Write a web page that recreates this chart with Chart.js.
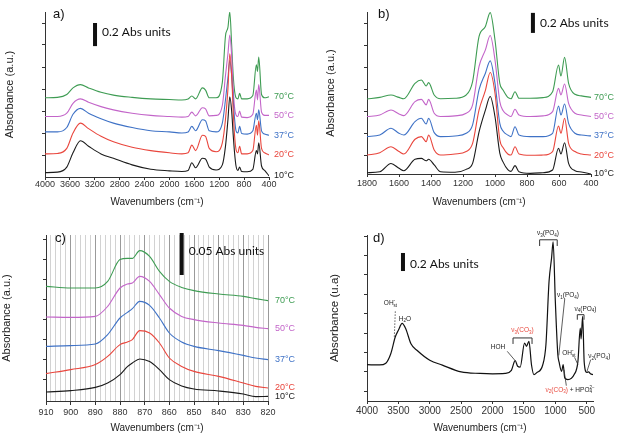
<!DOCTYPE html>
<html>
<head>
<meta charset="utf-8">
<script src="https://cdn.jsdelivr.net/npm/chart.js@4.4.1/dist/chart.umd.min.js"></script>
<style>
  html, body { margin: 0; padding: 0; background: #fff; width: 618px; height: 433px; overflow: hidden; }
  canvas { position: absolute; }
</style>
</head>
<body>
<canvas id="ca" style="left:0;top:0" width="309" height="216"></canvas>
<canvas id="cb" style="left:309px;top:0" width="309" height="216"></canvas>
<canvas id="cc" style="left:0;top:216px" width="309" height="217"></canvas>
<canvas id="cd" style="left:309px;top:216px" width="309" height="217"></canvas>
<script>
const temps = ['10°C', '20°C', '37°C', '50°C', '70°C'];
const tempColors = ['#1b1b1b', '#e9463d', '#3f72c6', '#c365c9', '#3e9c53'];
const red = '#e8473c';

// a) full range, 4000-400 cm-1
const wnA = [4000, 3800, 3650, 3550, 3430, 3300, 3100, 2900, 2600, 2300, 2000, 1800, 1700, 1640, 1580, 1470, 1420, 1360, 1250, 1150,
             1100, 1060, 1030, 1000, 975, 955, 930, 900, 872, 840, 750, 660, 603, 585, 565, 520, 470, 400];
const a10 = [0.2, 0.22, 0.45, 1.1, 1.65, 1.4, 1.05, 0.85, 0.55, 0.35, 0.28, 0.25, 0.3, 0.65, 0.42, 0.85, 0.82, 0.45, 0.32, 0.55,
             1.38, 2.6, 3.65, 3.0, 1.9, 1.15, 0.5, 0.3, 0.45, 0.25, 0.24, 0.35, 1.2, 1.05, 1.55, 0.5, 0.3, 0.05];
const a20 = [1.05, 1.07, 1.3, 2.0, 2.45, 2.2, 1.85, 1.6, 1.35, 1.2, 1.1, 1.05, 1.1, 1.45, 1.2, 1.9, 1.85, 1.3, 1.15, 1.55,
             2.6, 4.0, 5.6, 4.6, 3.0, 1.95, 1.25, 1.1, 1.4, 1.05, 1.05, 1.2, 2.35, 1.9, 2.55, 1.3, 1.1, 1.0];
const a37 = [2.05, 2.05, 2.25, 2.85, 3.12, 2.9, 2.65, 2.45, 2.25, 2.1, 2.05, 2.0, 2.05, 2.3, 2.1, 2.6, 2.55, 2.1, 2.05, 2.45,
             3.5, 4.5, 5.3, 4.6, 3.5, 2.7, 2.1, 2.0, 2.3, 1.98, 1.95, 2.1, 2.9, 2.6, 3.05, 2.1, 1.95, 1.9];
const a50 = [2.75, 2.75, 2.9, 3.35, 3.55, 3.4, 3.2, 3.05, 2.9, 2.8, 2.75, 2.72, 2.75, 2.95, 2.78, 3.15, 3.1, 2.78, 2.8, 3.25,
             4.6, 5.6, 6.45, 5.5, 4.0, 3.2, 2.82, 2.75, 3.0, 2.72, 2.7, 2.85, 3.95, 3.5, 4.2, 2.95, 2.8, 2.8];
const a70 = [3.6, 3.62, 3.75, 4.05, 4.2, 4.05, 3.85, 3.72, 3.62, 3.55, 3.52, 3.5, 3.55, 3.68, 3.55, 4.05, 3.95, 3.6, 3.6, 4.3,
             6.4, 6.8, 7.5, 6.0, 4.6, 3.95, 3.6, 3.55, 3.8, 3.55, 3.55, 3.7, 5.1, 4.8, 5.45, 3.75, 3.6, 3.65];

// b) 1800-400 cm-1
const wnB = [1800, 1720, 1650, 1600, 1570, 1500, 1460, 1430, 1415, 1380, 1340, 1250, 1180, 1140, 1100, 1060, 1030, 1000, 970, 950,
             920, 900, 875, 850, 780, 700, 640, 603, 588, 565, 540, 500, 460, 400];
const b10 = [0.06, 0.1, 0.48, 0.26, 0.15, 0.67, 0.71, 0.6, 0.67, 0.41, 0.1, 0.08, 0.21, 0.48, 1.9, 2.9, 3.52, 2.6, 0.95, 0.55,
             0.2, 0.12, 0.38, 0.1, 0.03, 0.06, 0.18, 1.17, 0.91, 1.42, 0.48, 0.15, 0.09, 0];
const b20 = [0.86, 0.97, 1.24, 1.02, 0.91, 1.58, 1.7, 1.47, 1.77, 1.09, 0.86, 0.91, 1.02, 1.39, 2.9, 3.8, 4.61, 3.67, 1.55, 1.2,
             0.91, 0.86, 1.24, 0.91, 0.85, 0.86, 1.02, 2.18, 1.85, 2.53, 1.39, 1.02, 0.91, 0.86];
const b37 = [1.7, 1.77, 2.08, 1.85, 1.77, 2.38, 2.53, 2.27, 2.53, 1.88, 1.7, 1.73, 1.85, 2.23, 3.82, 4.58, 5.14, 4.12, 2.3, 1.95,
             1.77, 1.7, 2.15, 1.77, 1.7, 1.7, 1.85, 3.09, 2.68, 3.18, 2.3, 1.85, 1.77, 1.73];
const b50 = [2.61, 2.68, 2.91, 2.73, 2.65, 3.29, 3.39, 3.14, 3.39, 2.76, 2.61, 2.64, 2.76, 3.14, 4.88, 5.64, 6.29, 5.18, 3.29, 2.88,
             2.68, 2.61, 2.94, 2.68, 2.61, 2.64, 2.83, 3.89, 3.59, 4.09, 3.21, 2.76, 2.68, 2.61];
const b70 = [3.41, 3.48, 3.59, 3.48, 3.42, 4.12, 4.27, 4.0, 4.15, 3.59, 3.42, 3.44, 3.59, 4.2, 6.24, 6.7, 7.33, 6.09, 4.12, 3.82,
             3.48, 3.42, 3.74, 3.44, 3.44, 3.47, 3.74, 4.95, 4.45, 5.3, 4.12, 3.62, 3.55, 3.48];

// c) carbonate v2 region, 910-820 cm-1
const wnC = [910, 900, 890, 885, 880, 877, 875, 872, 868, 864, 860, 855, 850, 840, 830, 825, 820];
const c10 = [0.45, 0.52, 0.68, 0.9, 1.32, 1.72, 1.9, 2.1, 1.97, 1.57, 1.07, 0.75, 0.6, 0.5, 0.35, 0.22, 0.23];
const c20 = [1.37, 1.57, 1.82, 2.23, 2.82, 2.95, 3.07, 3.52, 3.4, 2.9, 2.15, 1.73, 1.48, 1.23, 0.9, 0.73, 0.65];
const c37 = [2.73, 2.77, 2.85, 3.32, 4.15, 4.43, 4.62, 4.98, 4.78, 4.15, 3.4, 2.95, 2.73, 2.52, 2.28, 2.15, 2.07];
const c50 = [4.2, 4.18, 4.23, 4.73, 5.65, 5.85, 5.9, 6.23, 5.98, 5.32, 4.65, 4.23, 4.07, 3.9, 3.78, 3.68, 3.62];
const c70 = [5.73, 5.65, 5.65, 5.98, 7.07, 7.13, 7.13, 7.52, 7.23, 6.48, 5.98, 5.68, 5.52, 5.35, 5.23, 5.12, 5.02];

// d) assigned spectrum
const wnD = [4000, 3800, 3700, 3620, 3550, 3500, 3440, 3380, 3300, 3200, 3000, 2800, 2500, 2200, 2000, 1800, 1700, 1640, 1600, 1560,
             1490, 1460, 1420, 1380, 1340, 1300, 1200, 1150, 1100, 1060, 1035, 1000, 960, 940, 900, 875, 850, 800, 700, 640,
             603, 590, 565, 540, 500, 470, 440, 400];
const dAbs = [1.87, 1.86, 1.95, 2.45, 3.3, 3.65, 4.0, 3.7, 2.95, 2.6, 2.1, 1.85, 1.5, 1.42, 1.4, 1.42, 1.58, 2.08, 1.79, 1.75,
              2.99, 2.82, 3.08, 1.87, 1.36, 1.45, 1.87, 2.9, 6.17, 7.37, 8.2, 5.14, 2.39, 2.0, 1.53, 1.87, 1.19, 1.1, 1.36, 2.04,
              3.76, 3.2, 4.36, 2.0, 1.48, 1.5, 1.4, 1.36];

const ticksA = [4000, 3600, 3200, 2800, 2400, 2000, 1600, 1200, 800, 400];
const ticksB = [1800, 1600, 1400, 1200, 1000, 800, 600, 400];
const ticksC = [910, 900, 890, 880, 870, 860, 850, 840, 830, 820];
const ticksD = [4000, 3500, 3000, 2500, 2000, 1500, 1000, 500];

const yMarksA = [1, 2, 3, 4, 5, 6, 7];
const yMarksB = [0.86, 1.86, 2.86, 3.86, 4.86, 5.86, 6.86];
const yMarksC = [1.1, 2.1, 3.1, 4.1, 5.1, 6.1, 7.1, 8.1];
const yMarksD = [0.5, 1.5, 2.5, 3.5, 4.5, 5.5, 6.5, 7.5, 8.5];

const dNotes = [
  { text: [['OH^{-}_{st}']], at: [3626, 5.03] },
  { text: [['H_{2}O']], at: [3395, 4.22] },
  { text: [['HOH']], at: [1913, 2.78] },
  { text: [['ν_{3}(CO_{3})', red]], at: [1523, 3.63] },
  { text: [['ν_{3}(PO_{4})']], at: [1117, 8.63] },
  { text: [['ν_{1}(PO_{4})']], at: [798, 5.45] },
  { text: [['ν_{4}(PO_{4})']], at: [520, 4.75] },
  { text: [['OH^{-}_{st}']], at: [783, 2.46] },
  { text: [['ν_{2}(PO_{4})']], at: [300, 2.3] },
  { text: [['ν_{2}(CO_{3})', red], [' + HPO_{4}^{2−}']], at: [765, 0.57] }
];
const dLeaders = [
  { from: [3549, 4.62], to: [3565, 3.3], dash: true },
  { from: [1766, 2.56], to: [1645, 2.1] },
  { from: [850, 5.27], to: [945, 2.35] },
  { from: [693, 2.25], to: [640, 1.87] },
  { from: [437, 2.13], to: [496, 1.53] },
  { from: [825, 0.79], to: [862, 1.61] }
];
const dBrackets = [
  { span: [1674, 1371], top: 3.25, leg: 2.94 },
  { span: [1250, 970], top: 8.31, leg: 7.99 },
  { span: [650, 543], top: 4.45, leg: 4.19 }
];

const sans = '"Liberation Sans", Arial, sans-serif';

function drawRich(ctx, pieces, cx, cy, size) {
  const parts = [];
  pieces.forEach(([str, color = '#222']) => {
    const re = /([_^])\{([^}]*)\}|([^_^]+)/g;
    let m;
    while ((m = re.exec(str))) {
      if (m[3]) parts.push({ t: m[3], s: size, dy: 0, color });
      else parts.push({ t: m[2], s: size * 0.7, dy: m[1] === '_' ? size * 0.32 : -size * 0.4, color, script: m[1] });
    }
  });
  let x = 0, prev = null;
  parts.forEach(p => {
    ctx.font = `${p.s}px ${sans}`;
    p.w = ctx.measureText(p.t).width;
    if (p.script && prev && prev.script && prev.script !== p.script) {
      p.x = prev.x;
      x = prev.x + Math.max(prev.w, p.w);
    } else {
      p.x = x;
      x += p.w;
    }
    prev = p;
  });
  const left = cx - x / 2;
  parts.forEach(p => {
    ctx.font = `${p.s}px ${sans}`;
    ctx.fillStyle = p.color;
    ctx.fillText(p.t, left + p.x, cy + p.dy);
  });
}

const deco = {
  id: 'deco',
  afterDatasetsDraw(chart, args, o) {
    const { ctx, chartArea: a, scales: { x, y } } = chart;
    ctx.save();
    ctx.textBaseline = 'middle';
    ctx.textAlign = 'left';
    ctx.fillStyle = '#111';
    ctx.font = `13px ${sans}`;
    ctx.fillText(o.letter, a.left + o.letterAt[0], a.top + o.letterAt[1]);

    const bx = x.getPixelForValue(o.bar.x);
    const b0 = y.getPixelForValue(o.bar.from), b1 = y.getPixelForValue(o.bar.to);
    ctx.fillRect(bx - 2, b1, 4, b0 - b1);
    ctx.font = '12px Lato, "Open Sans", sans-serif';
    ctx.fillText(o.bar.text, bx + 7, (b0 + b1) / 2 + o.bar.dy);

    if (o.tempDx !== undefined) {
      ctx.font = `9px ${sans}`;
      chart.data.datasets.forEach(ds => {
        const last = ds.data[ds.data.length - 1];
        ctx.fillStyle = ds.borderColor;
        ctx.fillText(ds.label, a.right + o.tempDx, y.getPixelForValue(last.y));
      });
    }

    ctx.strokeStyle = '#333';
    ctx.lineWidth = 0.8;
    (o.leaders || []).forEach(l => {
      ctx.setLineDash(l.dash ? [1.5, 1.5] : []);
      ctx.beginPath();
      ctx.moveTo(x.getPixelForValue(l.from[0]), y.getPixelForValue(l.from[1]));
      ctx.lineTo(x.getPixelForValue(l.to[0]), y.getPixelForValue(l.to[1]));
      ctx.stroke();
    });
    ctx.setLineDash([]);
    ctx.lineWidth = 1;
    (o.brackets || []).forEach(b => {
      const x1 = x.getPixelForValue(b.span[0]), x2 = x.getPixelForValue(b.span[1]);
      const yt = y.getPixelForValue(b.top), yl = y.getPixelForValue(b.leg);
      ctx.beginPath();
      ctx.moveTo(x1, yl);
      ctx.lineTo(x1, yt);
      ctx.lineTo(x2, yt);
      ctx.lineTo(x2, yl);
      ctx.stroke();
    });
    (o.notes || []).forEach(n => {
      drawRich(ctx, n.text, x.getPixelForValue(n.at[0]), y.getPixelForValue(n.at[1]), 6.5);
    });
    ctx.restore();
  }
};

function spectra(wn, series, colors, width) {
  return series.map((vals, i) => ({
    label: temps[i] || '',
    data: wn.map((w, j) => ({ x: w, y: vals[j] })),
    borderColor: colors[i],
    borderWidth: width,
    pointRadius: 0,
    cubicInterpolationMode: 'monotone'
  }));
}

function panel(id, datasets, p) {
  return new Chart(document.getElementById(id), {
    type: 'line',
    data: { datasets },
    plugins: [deco],
    options: {
      responsive: false,
      animation: false,
      devicePixelRatio: 1,
      layout: { padding: p.pad },
      plugins: { legend: { display: false }, tooltip: { enabled: false }, deco: p.deco },
      scales: {
        x: {
          type: 'linear',
          reverse: true,
          min: p.xMin,
          max: p.xMax,
          afterFit: s => { s.height = p.xH; },
          afterBuildTicks: s => { s.ticks = p.xGridAt.map(v => ({ value: v })); },
          ticks: {
            autoSkip: false,
            maxRotation: 0,
            padding: p.xPad,
            color: '#333',
            font: { family: sans, size: p.xFont, lineHeight: 1 },
            callback: v => p.xLabels.includes(v) ? String(v) : ''
          },
          grid: {
            drawOnChartArea: !!p.gridC,
            color: c => (c.tick && c.tick.value % 10 === 0) ? '#9a9a9a' : '#d2d2d2',
            tickLength: p.tickLen,
            tickColor: c => (c.tick && p.xLabels.includes(c.tick.value)) ? '#333' : 'rgba(0,0,0,0)'
          },
          border: { color: '#333' },
          title: {
            display: true,
            text: 'Wavenumbers (cm⁻¹)',
            color: '#222',
            font: { family: sans, size: 10, lineHeight: 1 },
            padding: { top: 0, bottom: p.xTitlePad }
          }
        },
        y: {
          min: 0,
          max: p.yMax,
          afterFit: s => { s.width = p.yW; },
          afterBuildTicks: s => { s.ticks = p.yMarks.map(v => ({ value: v })); },
          ticks: { display: false },
          grid: { drawOnChartArea: false, tickLength: 3, tickColor: '#333' },
          border: { color: '#333' },
          title: {
            display: true,
            text: p.yTitle,
            color: '#222',
            font: { family: sans, size: p.yTitleSize, lineHeight: 1 },
            padding: { top: p.yTitlePad, bottom: 0 }
          }
        }
      }
    }
  });
}

panel('ca', spectra(wnA, [a10, a20, a37, a50, a70], tempColors, 1.1), {
  pad: { left: 0, top: 12, right: 40, bottom: 0 }, yW: 45, xH: 39,
  xMin: 400, xMax: 4000, yMax: 7.5, xGridAt: ticksA, xLabels: ticksA, xFont: 9, xPad: 0, tickLen: 3,
  xTitlePad: 8.5, yTitle: 'Absorbance (a.u.)', yTitleSize: 11, yTitlePad: 4.5, yMarks: yMarksA,
  deco: { letter: 'a)', letterAt: [8, 2], bar: { x: 3196, from: 5.95, to: 7.0, text: '0.2 Abs units', dy: -2 }, tempDx: 5 }
});

panel('cb', spectra(wnB, [b10, b20, b37, b50, b70], tempColors, 1.1), {
  pad: { left: 0, top: 12, right: 27, bottom: 0 }, yW: 58, xH: 42,
  xMin: 400, xMax: 1800, yMax: 7.36, xGridAt: ticksB, xLabels: ticksB, xFont: 9, xPad: 2.5, tickLen: 3,
  xTitlePad: 8.5, yTitle: 'Absorbance (a.u.)', yTitleSize: 11, yTitlePad: 16.5, yMarks: yMarksB,
  deco: { letter: 'b)', letterAt: [11, 2], bar: { x: 763, from: 6.41, to: 7.32, text: '0.2 Abs units', dy: 0 }, tempDx: 3 }
});

const gridC = [];
for (let w = 820; w <= 910; w += 2) gridC.push(w);
panel('cc', spectra(wnC, [c10, c20, c37, c50, c70], tempColors, 1.1), {
  pad: { left: 0, top: 19, right: 41, bottom: 0 }, yW: 46, xH: 32,
  xMin: 820, xMax: 910, yMax: 8.3, xGridAt: gridC, xLabels: ticksC, xFont: 9, xPad: 3, tickLen: 4, gridC: true,
  xTitlePad: 0, yTitle: 'Absorbance (a.u.)', yTitleSize: 11, yTitlePad: 1.5, yMarks: yMarksC,
  deco: { letter: 'c)', letterAt: [9, 3], bar: { x: 855, from: 6.3, to: 8.4, text: '0.05 Abs units', dy: -3 }, tempDx: 7 }
});

panel('cd', spectra(wnD, [dAbs], ['#111'], 1.2), {
  pad: { left: 0, top: 19, right: 25, bottom: 0 }, yW: 58, xH: 32,
  xMin: 400, xMax: 4000, yMax: 8.557, xGridAt: ticksD, xLabels: ticksD, xFont: 10, xPad: 2.5, tickLen: 3,
  xTitlePad: 0, yTitle: 'Absorbance (u.a)', yTitleSize: 11.5, yTitlePad: 20.5, yMarks: yMarksD,
  deco: { letter: 'd)', letterAt: [6, 3], bar: { x: 3427, from: 6.7, to: 7.63, text: '0.2 Abs units', dy: 2 },
          notes: dNotes, leaders: dLeaders, brackets: dBrackets }
});
</script>
</body>
</html>
